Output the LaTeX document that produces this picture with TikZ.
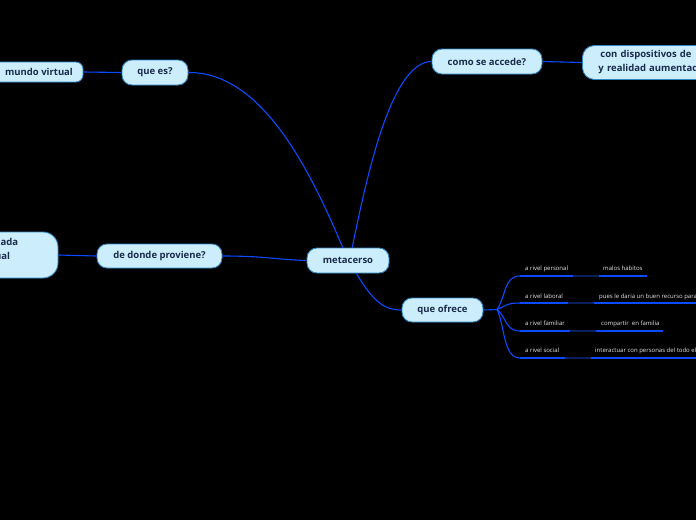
\documentclass[tikz,border=0pt]{standalone}
\usepackage{fontspec}
\setmainfont{Open Sans}
\definecolor{nfill}{HTML}{CCEEFC}
\definecolor{ndraw}{HTML}{2E86C1}
\definecolor{ntext}{HTML}{1A2B4C}
\definecolor{edge}{HTML}{0A4BFF}
\definecolor{dimedge}{HTML}{0B1F5C}
\definecolor{leaftext}{HTML}{E6E6E6}
\tikzset{
 topic/.style={draw=ndraw, line width=0.9pt, fill=nfill, text=ntext,
   font=\bfseries\fontsize{9.5}{14}\selectfont, rounded corners=10pt,
   inner sep=0pt, align=center},
 conn/.style={draw=edge, line width=1.1pt},
 uline/.style={draw=edge, line width=1.1pt},
 dimline/.style={draw=dimedge, line width=1.1pt},
 leaf/.style={text=leaftext, font=\fontsize{6}{7}\selectfont, inner sep=0pt, anchor=base west},
}
\begin{document}
\begin{tikzpicture}[x=1pt,y=-1pt]
\fill[black] (0,0) rectangle (696,520);
\useasboundingbox (0,0) rectangle (696,520);
\begin{scope}
\clip (0,0) rectangle (696,520);

% main nodes
\node[topic, minimum width=82pt, minimum height=25pt] (m) at (348,260.5) {metacerso};
\node[topic, minimum width=66pt, minimum height=25pt] (qe) at (155,72.5) {que es?};
\node[topic, minimum width=94pt, minimum height=20pt, rounded corners=7pt] (mv) at (36,72) {\hspace*{6pt}mundo virtual};
\node[topic, minimum width=125pt, minimum height=24pt] (dp) at (159.5,256) {de donde proviene?};
\node[topic, minimum width=140pt, minimum height=46pt, rounded corners=15pt] (gv) at (-12,255) {};
\node[topic, draw=none, fill=none, anchor=north east, align=right] (gvt) at (18.5,238) {aumentada\\virtual\hspace*{8pt}};
\node[topic, minimum width=110pt, minimum height=25pt] (ca) at (487,61.5) {como se accede?};
\node[topic, minimum width=150pt, minimum height=34pt, rounded corners=12pt, anchor=west,
      align=left, text width=128pt, inner xsep=16pt] (cd) at (582,62.5)
      {\hspace*{2pt}con dispositivos de\\y realidad aumentada};
\node[topic, minimum width=81pt, minimum height=24pt] (qo) at (442.5,310) {que ofrece};

% main connectors
\draw[conn] (qe.east) .. controls (262,72) and (310,170) .. (m.112);
\draw[conn] (m.72) .. controls (368,170) and (392,62) .. (ca.west);
\draw[conn] (dp.east) .. controls (265,256) and (275,259.5) .. (m.west);
\draw[conn] (m.-57) .. controls (374,303) and (385,310) .. (qo.west);
\draw[conn] (mv.east) -- (qe.west);
\draw[conn] (gv.east) -- (dp.west);
\draw[conn] (ca.east) -- (cd.west);

% branch
\coordinate (bp) at (497,309.5);
\draw[conn] (qo.east) -- (bp);

\coordinate (p0) at (520,276); \coordinate (p1) at (573,276); \coordinate (p2) at (599,276); \coordinate (p3) at (647,276);
\coordinate (b0) at (520,303); \coordinate (b1) at (568,303); \coordinate (b2) at (594,303); \coordinate (b3) at (700,303);
\coordinate (f0) at (520,331); \coordinate (f1) at (570,331); \coordinate (f2) at (596,331); \coordinate (f3) at (663,331);
\coordinate (s0) at (520,358); \coordinate (s1) at (565,358); \coordinate (s2) at (591,358); \coordinate (s3) at (700,358);

\draw[conn] (bp) .. controls (506,296) and (504,276) .. (p0);
\draw[conn] (bp) .. controls (506,306) and (506,303) .. (b0);
\draw[conn] (bp) .. controls (506,316) and (505,331) .. (f0);
\draw[conn] (bp) .. controls (505,326) and (503,358) .. (s0);

\draw[uline] (p0) -- (p1); \draw[dimline] (p1) -- (p2); \draw[uline] (p2) -- (p3);
\draw[uline] (b0) -- (b1); \draw[dimline] (b1) -- (b2); \draw[uline] (b2) -- (b3);
\draw[uline] (f0) -- (f1); \draw[dimline] (f1) -- (f2); \draw[uline] (f2) -- (f3);
\draw[uline] (s0) -- (s1); \draw[dimline] (s1) -- (s2); \draw[uline] (s2) -- (s3);

\node[leaf] (l1) at (525,270) {a rivel personal};
\node[leaf] (v1) at (603,270) {malos habitos};
\node[leaf] (l2) at (525,298) {a rivel laboral};
\node[leaf] (v2) at (599,298) {pues le daria un buen recurso para};
\node[leaf] (l3) at (525,325.5) {a rivel familiar};
\node[leaf] (v3) at (601,325.5) {compartir\ \ en familia};
\node[leaf] (l4) at (525,352.5) {a rivel social};
\node[leaf] (v4) at (595,352.5) {interactuar con personas del todo el};
\end{scope}
\end{tikzpicture}
\end{document}
